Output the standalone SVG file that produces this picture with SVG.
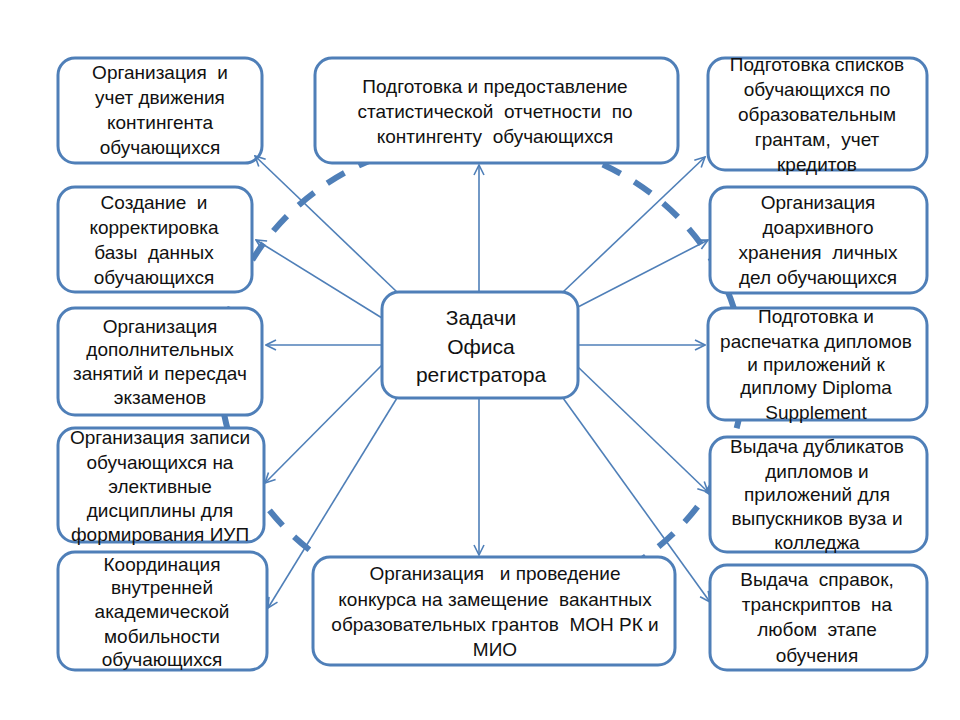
<svg xmlns="http://www.w3.org/2000/svg" width="960" height="720" viewBox="0 0 960 720">
<style>
.box{fill:#fff;stroke:#4f7fb8;stroke-width:3}
.t{font-family:"Liberation Sans",Arial,sans-serif;font-size:19px;fill:#111;text-anchor:middle;white-space:pre}
.c{font-size:21px}
.ln{stroke:#4f7fb8;stroke-width:1.6;fill:none;marker-end:url(#ah)}
.ell{fill:none;stroke:#4f7fb8;stroke-width:6;stroke-dasharray:20 16}
</style>
<defs>
<marker id="ah" viewBox="0 0 12 12" refX="11" refY="6" markerWidth="12" markerHeight="12" markerUnits="userSpaceOnUse" orient="auto">
<path d="M1,1 L11,6 L1,11" fill="none" stroke="#4f7fb8" stroke-width="1.6"/>
</marker>
</defs>
<rect width="960" height="720" fill="#fff"/>
<ellipse class="ell" cx="482" cy="373" rx="262" ry="235"/>

<g id="n1"><rect class="box" x="58" y="58" width="204" height="105" rx="17"/>
<text class="t"><tspan x="160" y="79">Организация  и</tspan><tspan x="160" y="104">учет движения</tspan><tspan x="160" y="129">контингента</tspan><tspan x="160" y="154">обучающихся</tspan></text></g>

<g id="n2"><rect class="box" x="58" y="187" width="194" height="105" rx="17"/>
<text class="t"><tspan x="154" y="209">Создание  и</tspan><tspan x="154" y="234">корректировка</tspan><tspan x="154" y="259">базы  данных</tspan><tspan x="154" y="284">обучающихся</tspan></text></g>

<g id="n3"><rect class="box" x="58" y="308" width="204" height="107" rx="17"/>
<text class="t"><tspan x="160" y="333">Организация</tspan><tspan x="160" y="356">дополнительных</tspan><tspan x="160" y="380">занятий и пересдач</tspan><tspan x="160" y="404">экзаменов</tspan></text></g>

<g id="n4"><rect class="box" x="58" y="428" width="206" height="114" rx="17"/>
<text class="t"><tspan x="160" y="444">Организация записи</tspan><tspan x="160" y="469">обучающихся на</tspan><tspan x="160" y="493">элективные</tspan><tspan x="160" y="517">дисциплины для</tspan><tspan x="160" y="541">формирования ИУП</tspan></text></g>

<g id="n5"><rect class="box" x="58" y="552" width="209" height="118" rx="17"/>
<text class="t"><tspan x="162" y="571">Координация</tspan><tspan x="162" y="594">внутренней</tspan><tspan x="162" y="618">академической</tspan><tspan x="162" y="643">мобильности</tspan><tspan x="162" y="666">обучающихся</tspan></text></g>

<g id="n6"><rect class="box" x="315" y="58" width="363" height="105" rx="17"/>
<text class="t"><tspan x="495" y="93">Подготовка и предоставление</tspan><tspan x="495" y="118">статистической  отчетности  по</tspan><tspan x="495" y="143">контингенту  обучающихся</tspan></text></g>

<g id="n7"><rect class="box" x="382" y="292" width="196" height="106" rx="17"/>
<text class="t c"><tspan x="481" y="325">Задачи</tspan><tspan x="481" y="354">Офиса</tspan><tspan x="481" y="382">регистратора</tspan></text></g>

<g id="n8"><rect class="box" x="313" y="557" width="362" height="108" rx="17"/>
<text class="t"><tspan x="495" y="580">Организация   и проведение</tspan><tspan x="495" y="606">конкурса на замещение  вакантных</tspan><tspan x="495" y="631">образовательных грантов  МОН РК и</tspan><tspan x="495" y="656">МИО</tspan></text></g>

<g id="n9"><rect class="box" x="708" y="58" width="219" height="112" rx="17"/>
<text class="t"><tspan x="817" y="71">Подготовка списков</tspan><tspan x="817" y="96">обучающихся по</tspan><tspan x="817" y="121">образовательным</tspan><tspan x="817" y="146">грантам,  учет</tspan><tspan x="817" y="171">кредитов</tspan></text></g>

<g id="n10"><rect class="box" x="710" y="187" width="217" height="106" rx="17"/>
<text class="t"><tspan x="818" y="209">Организация</tspan><tspan x="818" y="234">доархивного</tspan><tspan x="818" y="259">хранения  личных</tspan><tspan x="818" y="284">дел обучающихся</tspan></text></g>

<g id="n11"><rect class="box" x="708" y="308" width="219" height="112" rx="17"/>
<text class="t"><tspan x="816" y="323">Подготовка и</tspan><tspan x="816" y="348">распечатка дипломов</tspan><tspan x="816" y="371">и приложений к</tspan><tspan x="816" y="394">диплому Diploma</tspan><tspan x="816" y="419">Supplement</tspan></text></g>

<g id="n12"><rect class="box" x="710" y="437" width="217" height="115" rx="17"/>
<text class="t"><tspan x="817" y="453">Выдача дубликатов</tspan><tspan x="817" y="478">дипломов и</tspan><tspan x="817" y="501">приложений для</tspan><tspan x="817" y="525">выпускников вуза и</tspan><tspan x="817" y="549">колледжа</tspan></text></g>

<g id="n13"><rect class="box" x="710" y="565" width="217" height="105" rx="17"/>
<text class="t"><tspan x="817" y="586">Выдача  справок,</tspan><tspan x="817" y="611">транскриптов  на</tspan><tspan x="817" y="636">любом  этапе</tspan><tspan x="817" y="662">обучения</tspan></text></g>

<g id="connectors">
<line class="ln" x1="397" y1="292" x2="255" y2="156"/>
<line class="ln" x1="382" y1="318" x2="256" y2="240"/>
<line class="ln" x1="382" y1="345" x2="266" y2="345"/>
<line class="ln" x1="382" y1="365" x2="265" y2="483"/>
<line class="ln" x1="397" y1="398" x2="268" y2="608"/>
<line class="ln" x1="479" y1="292" x2="479" y2="165"/>
<line class="ln" x1="479" y1="398" x2="479" y2="555"/>
<line class="ln" x1="563" y1="292" x2="705" y2="157"/>
<line class="ln" x1="578" y1="307" x2="708" y2="240"/>
<line class="ln" x1="578" y1="345" x2="705" y2="345"/>
<line class="ln" x1="578" y1="367" x2="708" y2="492"/>
<line class="ln" x1="563" y1="398" x2="710" y2="602"/>
</g>
</svg>
